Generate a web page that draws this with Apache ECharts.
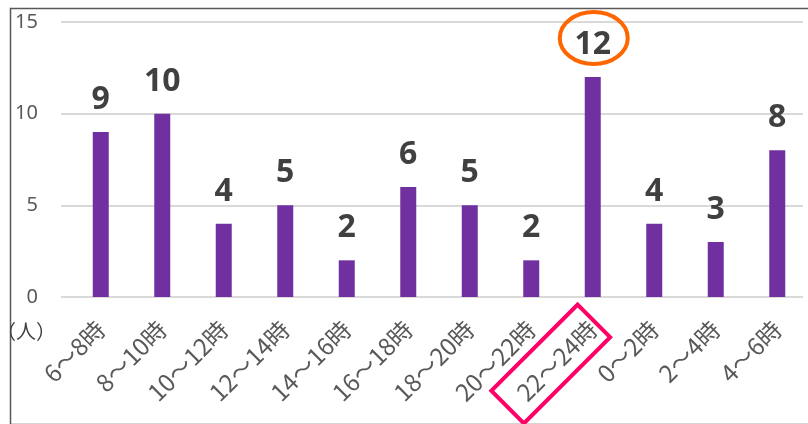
<!DOCTYPE html>
<html lang="ja">
<head>
  <meta charset="UTF-8">
  <title>時間帯別人数</title>
  <script src="https://cdn.jsdelivr.net/npm/echarts@6/dist/echarts.min.js"></script>
</head>
<body style="margin:0">
  <div id="main" style="width: 808px;height:424px;"></div>
  <script type="text/javascript">
    // data
    var categories = ['6〜8時', '8〜10時', '10〜12時', '12〜14時', '14〜16時', '16〜18時',
      '18〜20時', '20〜22時', '22〜24時', '0〜2時', '2〜4時', '4〜6時'];
    var counts = [9, 10, 4, 5, 2, 6, 5, 2, 12, 4, 3, 8];
    var yTicks = [0, 5, 10, 15];
    var highlightIndex = 8;

    var myChart = echarts.init(document.getElementById('main'));
    var jpFont = '"Noto Sans CJK JP", sans-serif';

    var option = {
      animation: false,
      grid: [
        { left: 61, right: 5, top: 22, bottom: 127 },
        { left: 70, right: -4, top: 22, bottom: 127 }
      ],
      xAxis: [
        { gridIndex: 0, type: 'category', data: categories, show: false },
        {
          gridIndex: 1, type: 'category', data: categories,
          axisLine: { show: false },
          axisTick: { show: false },
          axisLabel: {
            rotate: 45, margin: 28, fontSize: 24, color: '#595959',
            fontFamily: jpFont, interval: 0
          }
        }
      ],
      yAxis: [
        {
          gridIndex: 0, type: 'value', min: yTicks[0], max: yTicks[yTicks.length - 1], interval: 5,
          axisLine: { show: false }, axisTick: { show: false },
          axisLabel: { fontSize: 20, color: '#595959', margin: 23, fontFamily: 'Noto Sans' },
          splitLine: { lineStyle: { color: '#d9d9d9', width: 2 } }
        },
        {
          gridIndex: 1, type: 'value', min: 0, max: 15, interval: 5,
          show: false, splitLine: { show: false }
        }
      ],
      series: [
        {
          type: 'bar',
          xAxisIndex: 1, yAxisIndex: 1,
          data: counts,
          barWidth: 16,
          itemStyle: { color: '#7030A0' },
          label: {
            show: true, position: 'top', distance: 16,
            fontSize: 32, fontWeight: 'bold', color: '#404040',
            fontFamily: 'Noto Sans'
          }
        }
      ]
    };
    myChart.setOption(option);

    // annotation marks placed from the axis scale
    var peakPt = myChart.convertToPixel({ xAxisIndex: 1, yAxisIndex: 1 }, [highlightIndex, counts[highlightIndex]]);
    var basePt = myChart.convertToPixel({ xAxisIndex: 1, yAxisIndex: 1 }, [highlightIndex, 0]);
    myChart.setOption({
      graphic: [
        {
          type: 'rect', left: 8, top: 6,
          shape: { width: 830, height: 416 },
          style: { fill: 'none', stroke: '#595959', lineWidth: 1.5 }
        },
        {
          type: 'text', x: -4, y: 321,
          style: { text: '（人）', fontSize: 20, fill: '#404040', fontFamily: jpFont }
        },
        {
          type: 'ellipse',
          shape: { cx: peakPt[0] + 1, cy: peakPt[1] - 39, rx: 34, ry: 26 },
          style: { fill: 'none', stroke: '#FF6600', lineWidth: 4 }
        },
        {
          type: 'rect',
          x: basePt[0] - 42, y: basePt[1] + 67,
          rotation: Math.PI / 4,
          shape: { x: -61, y: -23, width: 122, height: 46 },
          style: { fill: 'none', stroke: '#FF0066', lineWidth: 4 }
        }
      ]
    });
  </script>
</body>
</html>
